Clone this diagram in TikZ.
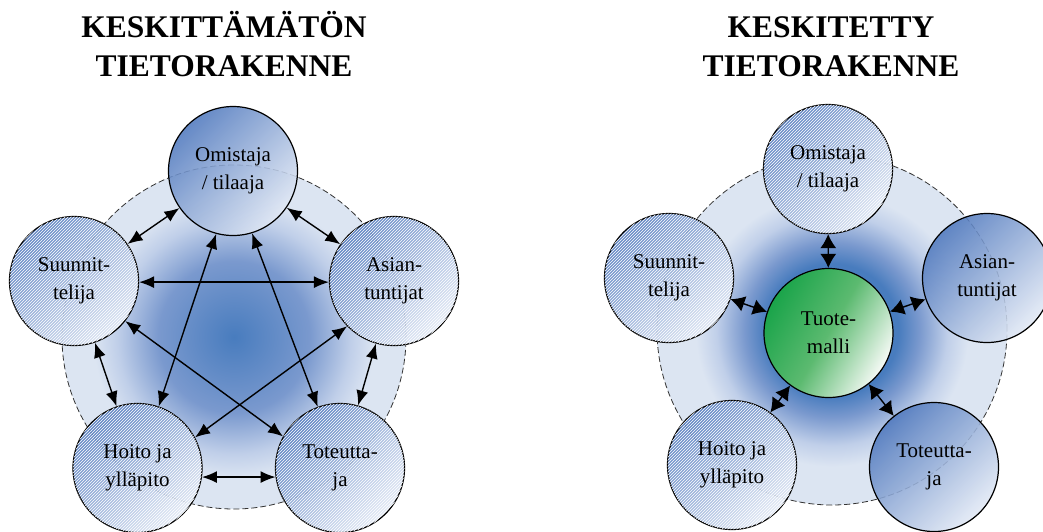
\documentclass[tikz,border=0pt]{standalone}
\usepackage{fontspec}
\setmainfont{Liberation Serif}
\usetikzlibrary{arrows.meta,patterns,shadings}

% palette
\definecolor{glowcore}{RGB}{72,124,190}
\definecolor{glowmid}{RGB}{122,153,206}
\definecolor{glowsoft}{RGB}{192,207,233}
\definecolor{glowrim}{RGB}{220,229,242}
\definecolor{nodedark}{RGB}{80,121,190}
\definecolor{nodelight}{RGB}{226,233,245}
\definecolor{modeldark}{RGB}{26,164,74}
\definecolor{modelmid}{RGB}{92,186,112}
\definecolor{modellight}{RGB}{246,250,246}

% soft blue glow behind each group of actors
\pgfdeclareradialshading{glowleft}{\pgfpointorigin}{%
  color(0bp)=(glowcore); color(11bp)=(glowmid); color(17bp)=(glowsoft);
  color(20.5bp)=(glowrim); color(50bp)=(glowrim)}
\pgfdeclareradialshading{glowright}{\pgfpointorigin}{%
  color(0bp)=(glowcore); color(9.5bp)=(glowcore); color(12.5bp)=(glowmid);
  color(16.5bp)=(glowsoft); color(19.5bp)=(glowrim); color(50bp)=(glowrim)}

\begin{document}
\begin{tikzpicture}[x=1pt,y=-1pt,
  every node/.style={font=\fontsize{21}{28}\selectfont},
  actor/.style={circle, draw=black, line width=1.2pt, minimum size=129pt,
    inner sep=0pt, align=center, top color=nodedark, bottom color=nodelight,
    shading angle=45, fill opacity=0.88, text opacity=1},
  hatched/.style={postaction={pattern=north east lines, pattern color=white,
    fill opacity=0.18}},
  model/.style={circle, draw=black, line width=1.2pt, minimum size=129pt,
    inner sep=0pt, align=center, top color=modeldark, bottom color=modellight,
    middle color=modelmid, shading angle=60},
  title/.style={font=\fontsize{31.5}{39}\selectfont\bfseries, anchor=base},
  link/.style={{Latex[length=15pt,width=12pt]}-{Latex[length=15pt,width=12pt]},
    line width=1.4pt},
  hublink/.style={{Latex[length=14pt,width=16pt]}-{Latex[length=14pt,width=16pt]},
    line width=1.4pt},
  field/.style={draw=black!80, dashed, dash pattern=on 6pt off 3pt, line width=0.8pt}
]
\useasboundingbox (0,0) rectangle (1043,531);

% ---------- titles ----------
\node[title] (ltitleA) at (224,37) {KESKITTÄMÄTÖN};
\node[title] (ltitleB) at (224,76) {TIETORAKENNE};
\node[title] (rtitleA) at (831,37) {KESKITETTY};
\node[title] (rtitleB) at (831,76) {TIETORAKENNE};

% ---------- background fields ----------
\path[shading=glowleft] (234,337) circle[radius=172pt];
\path[field] (234,337) circle[radius=172pt];
\path[shading=glowright] (832,330) circle[radius=175pt];
\path[field] (832,330) circle[radius=175pt];

% ---------- decentralised structure ----------
\node[actor] (lO) at (233,171) {Omistaja\\/ tilaaja};
\node[actor,hatched] (lS) at (74,281) {Suunnit-\\telija};
\node[actor,hatched] (lA) at (394,281) {Asian-\\tuntijat};
\node[actor,hatched] (lH) at (137.5,468) {Hoito ja\\ylläpito};
\node[actor,hatched] (lT) at (340,468) {Toteutta-\\ja};

\draw[link] (lO) -- (lS);
\draw[link] (lO) -- (lA);
\draw[link] (lS) -- (lH);
\draw[link] (lA) -- (lT);
\draw[link] (lH.-8) -- (lT.188);
\draw[link] (lS.-1) -- (lA.181);
\draw[link] (lO.255) -- (lH.71);
\draw[link] (lO.287) -- (lT.110);
\draw[link] (lS.-38) -- (lT.151);
\draw[link] (lA.224) -- (lH.28);

% ---------- centralised structure ----------
\node[actor,hatched] (rO) at (828,169) {Omistaja\\/ tilaaja};
\node[actor,hatched] (rS) at (669,278) {Suunnit-\\telija};
\node[actor] (rA) at (987,278) {Asian-\\tuntijat};
\node[actor,hatched] (rH) at (732,465) {Hoito ja\\ylläpito};
\node[actor] (rT) at (934,467) {Toteutta-\\ja};
\node[model] (rM) at (828.5,333) {Tuote-\\malli};

\draw[hublink] (rM) -- (rO);
\draw[hublink] (rM) -- (rS);
\draw[hublink] (rM) -- (rA);
\draw[hublink] (rM) -- (rH);
\draw[hublink] (rM) -- (rT);
\end{tikzpicture}
\end{document}
